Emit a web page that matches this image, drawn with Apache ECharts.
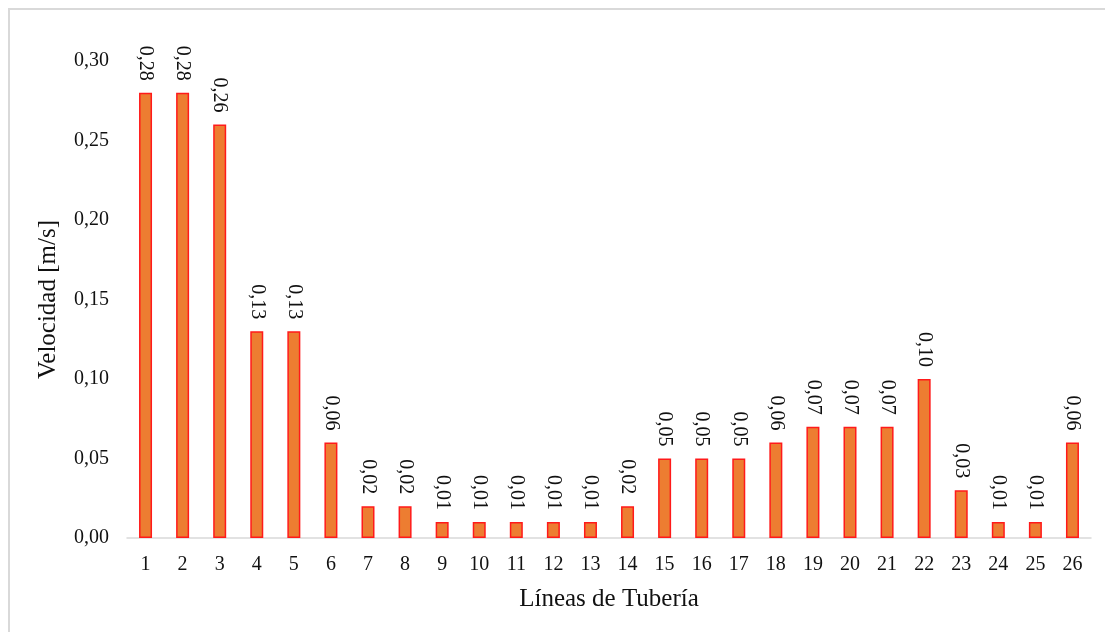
<!DOCTYPE html>
<html>
<head>
<meta charset="utf-8">
<script src="https://cdn.jsdelivr.net/npm/echarts@6/dist/echarts.min.js"></script>
<style>
  html, body { margin: 0; padding: 0; background: #fff; }
  #chart { width: 1105px; height: 632px; }
</style>
</head>
<body>
<div id="chart"></div>
<script>
// Pipe line numbers and flow velocity per line
const lineas = ['1','2','3','4','5','6','7','8','9','10','11','12','13','14','15','16','17','18','19','20','21','22','23','24','25','26'];
const velocidad = [0.28,0.28,0.26,0.13,0.13,0.06,0.02,0.02,0.01,0.01,0.01,0.01,0.01,0.02,0.05,0.05,0.05,0.06,0.07,0.07,0.07,0.10,0.03,0.01,0.01,0.06];
const yTicks = { min: 0, max: 0.30, interval: 0.05 };

const serif = '"Liberation Serif", "DejaVu Serif", serif';
const ink = '#111';
const fmt = v => v.toFixed(2).replace('.', ',');

const chart = echarts.init(document.getElementById('chart'));
chart.setOption({
  animation: false,
  backgroundColor: '#ffffff',
  graphic: [{
    type: 'rect',
    shape: { x: 9, y: 9, width: 1200, height: 700 },
    style: { fill: 'none', stroke: '#d9d9d9', lineWidth: 2 },
    silent: true
  }],
  grid: { left: 127, right: 14, top: 61, bottom: 94 },
  xAxis: {
    type: 'category',
    data: lineas,
    name: 'Líneas de Tubería',
    nameLocation: 'middle',
    nameGap: 49,
    nameTextStyle: { fontFamily: serif, fontSize: 25, color: ink },
    axisLine: { lineStyle: { color: '#d9d9d9', width: 1.5 } },
    axisTick: { show: false },
    axisLabel: { fontFamily: serif, fontSize: 20, color: ink, margin: 17 }
  },
  yAxis: {
    type: 'value',
    min: yTicks.min,
    max: yTicks.max,
    interval: yTicks.interval,
    name: 'Velocidad [m/s]',
    nameLocation: 'middle',
    nameGap: 66,
    nameTextStyle: { fontFamily: serif, fontSize: 25, color: ink },
    axisLine: { show: false },
    axisTick: { show: false },
    splitLine: { show: false },
    axisLabel: { fontFamily: serif, fontSize: 20, color: ink, margin: 18, formatter: v => fmt(v) }
  },
  series: [{
    type: 'bar',
    data: velocidad,
    barWidth: 13,
    itemStyle: { color: '#ed7d31', borderColor: '#ff1a1a', borderWidth: 1.5 },
    label: {
      show: true,
      position: 'top',
      rotate: -90,
      align: 'right',
      verticalAlign: 'middle',
      distance: 12,
      fontFamily: serif,
      fontSize: 20,
      color: ink,
      formatter: p => fmt(p.value)
    }
  }]
});
</script>
</body>
</html>
